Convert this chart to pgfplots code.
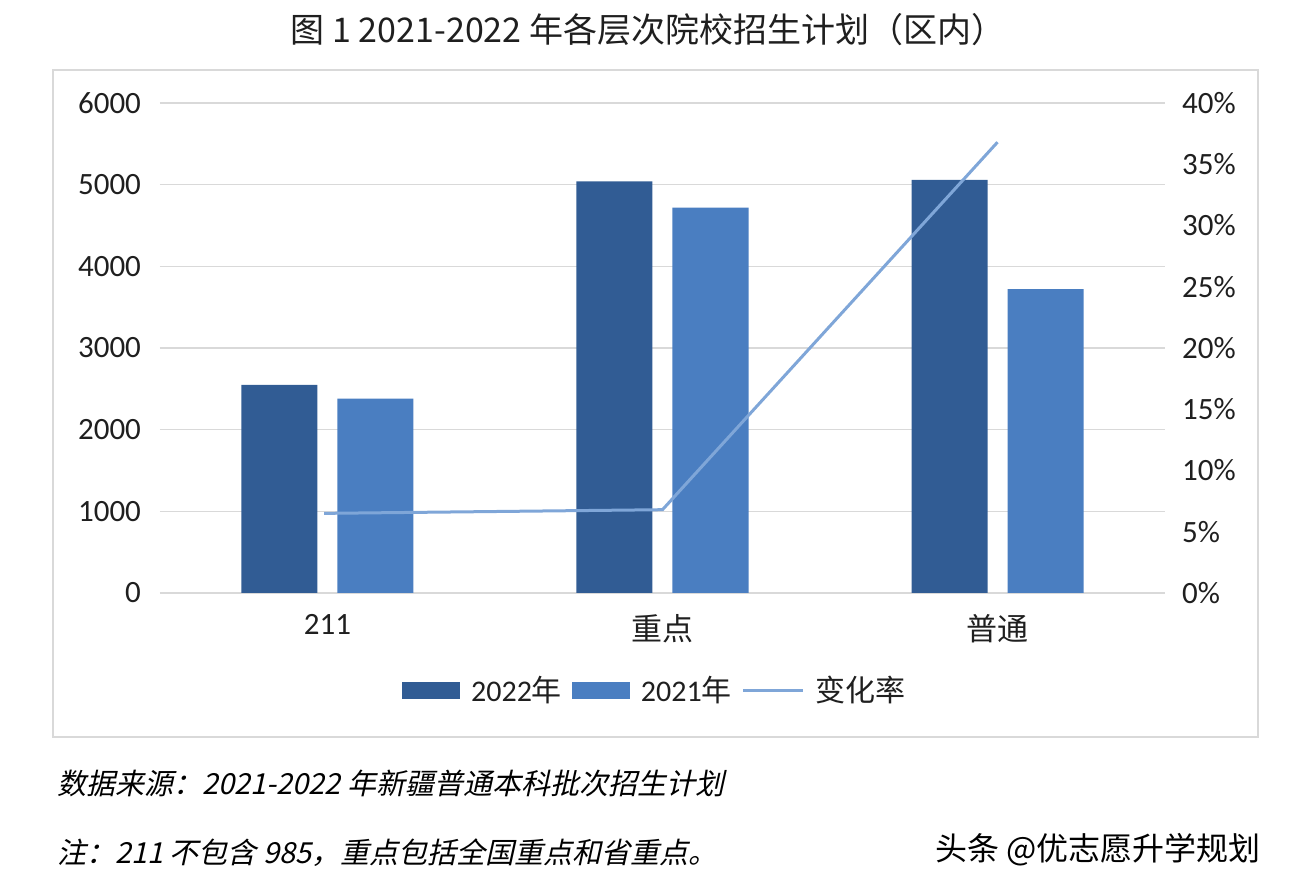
\documentclass[border=0pt]{standalone}
\usepackage{pgfplots}
\pgfplotsset{compat=1.18}
\usepackage{fontspec}
\setmainfont{Carlito}
\newfontfamily\cjk{Noto Sans CJK SC}
\newfontfamily\cjkit[FakeSlant=0.22]{Noto Sans CJK SC}
\definecolor{darkbar}{HTML}{315C94}
\definecolor{lightbar}{HTML}{4A7EC1}
\definecolor{linec}{HTML}{7FA6D8}
\definecolor{gridc}{HTML}{D9D9D9}
\definecolor{txt}{HTML}{1F1F1F}
\begin{document}
\begin{tikzpicture}[x=1pt,y=1pt]
\useasboundingbox (-80,-147.5) rectangle (568,296.5);
\draw[gridc, line width=0.6pt] (-53.5,-72) rectangle (549,261.5);
\node[font=\cjk\fontsize{17}{20}\selectfont, text=txt] at (244,281.5) {图 1 2021-2022 年各层次院校招生计划（区内）};
\begin{axis}[
  scale only axis, width=502.5pt, height=245pt,
  at={(0,0)}, anchor=south west,
  xmin=-0.5, xmax=2.5, ymin=0, ymax=6000,
  xtick={0,1,2}, xticklabels={211,{\cjk 重点},{\cjk 普通}},
  ytick={0,1000,...,6000},
  ymajorgrids, grid style={gridc, line width=0.6pt},
  axis line style={draw=none},
  major tick length=0pt,
  tick label style={font=\fontsize{15.5}{18}\selectfont, text=txt},
  yticklabel style={xshift=-6pt},
  xticklabel style={yshift=-7pt},
  /pgf/number format/assume math mode=true,
  /pgf/number format/1000 sep={},
  legend columns=3,
  legend style={at={(0.4935,-0.198)}, anchor=center, draw=none, fill=none,
    font=\fontsize{15}{18}\selectfont, text=txt,
    /tikz/every odd column/.append style={column sep=3.5pt},
    /tikz/every even column/.append style={column sep=3pt}},
]
\addplot[ybar, bar width=38pt, bar shift=-24pt, fill=darkbar, draw=none,
  legend image code/.code={\fill[darkbar] (0pt,-4.25pt) rectangle (29pt,4.25pt);}]
  coordinates {(0,2550) (1,5040) (2,5060)};
\addlegendentry{2022{\cjk 年}}
\addplot[ybar, bar width=38pt, bar shift=24pt, fill=lightbar, draw=none,
  legend image code/.code={\fill[lightbar] (0pt,-4.25pt) rectangle (29pt,4.25pt);}]
  coordinates {(0,2380) (1,4720) (2,3720)};
\addlegendentry{2021{\cjk 年}}
\addlegendimage{legend image code/.code={\draw[linec, line width=1.5pt] (0pt,0pt) -- (30pt,0pt);}}
\addlegendentry{\cjk 变化率}
\end{axis}
\begin{axis}[
  scale only axis, width=502.5pt, height=245pt,
  at={(0,0)}, anchor=south west,
  xmin=-0.5, xmax=2.5, ymin=0, ymax=40,
  ytick={0,5,...,40},
  axis y line*=right, axis x line=none,
  axis line style={draw=none},
  major tick length=0pt,
  tick label style={font=\fontsize{15.5}{18}\selectfont, text=txt},
  /pgf/number format/assume math mode=true,
  yticklabel={\pgfmathprintnumber{\tick}\%},
  yticklabel style={xshift=5pt},
]
\addplot[linec, line width=1.5pt] coordinates {(-0.01,6.5) (1,6.8) (2,36.8)};
\end{axis}
\node[anchor=west, font=\cjkit\fontsize{14.5}{17}\selectfont, text=black] at (-55,-95) {数据来源：2021-2022 年新疆普通本科批次招生计划};
\node[anchor=west, font=\cjkit\fontsize{14.5}{17}\selectfont, text=black] at (-55,-130) {注：211 不包含 985，重点包括全国重点和省重点。};
\node[anchor=east, font=\cjk\fontsize{16}{19}\selectfont, text=black] at (554,-128.5) {头条 @优志愿升学规划};
\end{tikzpicture}
\end{document}
